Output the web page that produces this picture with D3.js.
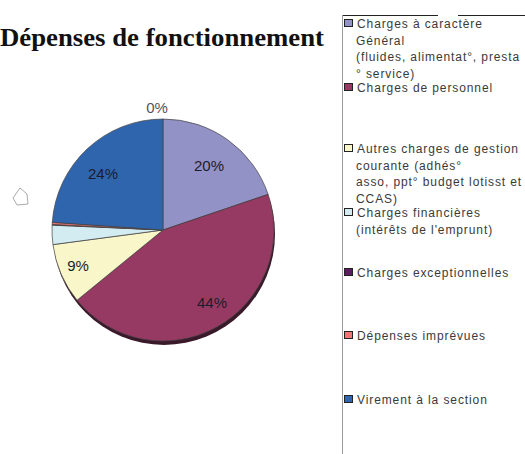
<!DOCTYPE html>
<html><head><meta charset="utf-8">
<script src="https://cdn.jsdelivr.net/npm/d3@7"></script>
<style>body{margin:0;background:#fff;overflow:hidden}svg{display:block}</style>
</head><body>
<script>
const categories = ["Charges à caractère Général (fluides, alimentat°, presta ° service)","Charges de personnel","Autres charges de gestion courante (adhés° asso, ppt° budget lotisst et CCAS)","Charges financières (intérêts de l'emprunt)","Charges exceptionnelles","Dépenses imprévues","Virement à la section"];
const values = [19.8, 44.3, 8.8, 2.8, 0.1, 0.3, 23.9];
const shownLabels = ["20%","44%","9%","","0%","","24%"];
const legendLines = [
  ["Charges à caractère","Général","(fluides, alimentat°, presta","° service)"],
  ["Charges de personnel"],
  ["Autres charges de gestion","courante  (adhés°","asso, ppt° budget lotisst et","CCAS)"],
  ["Charges financières","(intérêts de l'emprunt)"],
  ["Charges exceptionnelles"],
  ["Dépenses imprévues"],
  ["Virement à la section"]
];
const colors = ["#9392c7","#963a64","#f9f6c9","#d3ecf1","#5c1c5e","#f07474","#2f65ac"];

const W=525,H=454;
const svg=d3.select("body").append("svg").attr("width",W).attr("height",H);

svg.append("text").attr("x",0).attr("y",46)
  .attr("font-family","Liberation Serif, serif").attr("font-weight","bold")
  .attr("font-size",25).attr("fill","#111")
  .attr("textLength",324).attr("lengthAdjust","spacingAndGlyphs")
  .text("Dépenses de fonctionnement");

// small outline shape
svg.append("path").attr("d","M20,188 L27,194 L28,204 L17,205 L13,198 Z")
  .attr("fill","#fff").attr("stroke","#aaa").attr("stroke-width",1);

const cx=163,cy=230,r=111;
const pie=d3.pie().sort(null).value(d=>d)(values);
const arc=d3.arc().innerRadius(0).outerRadius(r);
const g=svg.append("g").attr("transform",`translate(${cx},${cy})`);
g.append("ellipse").attr("cx",1).attr("cy",4).attr("rx",r).attr("ry",r).attr("fill","#3a1a2a");
g.selectAll("path.s").data(pie).join("path").attr("class","s")
  .attr("d",arc).attr("fill",(d,i)=>colors[i])
  .attr("stroke","#444").attr("stroke-width",0.7);

const labelPos = [[46,-63],[49,74],[-85,37],null,[-6,-121],null,[-60,-55]];
const labelData = pie.map((d,i)=>({i,text:shownLabels[i],pos:labelPos[i]})).filter(d=>d.text!=="");
g.selectAll("text.l").data(labelData).join("text").attr("class","l")
  .attr("x",d=>d.pos[0]).attr("y",d=>d.pos[1])
  .attr("text-anchor","middle").attr("dominant-baseline","middle")
  .attr("font-family","Liberation Sans, Arial, sans-serif").attr("font-size",15)
  .attr("fill",d=>d.i===4?"#555":"#1c1c2c")
  .text(d=>d.text);

// legend
svg.append("line").attr("x1",342).attr("x2",438).attr("y1",15.5).attr("y2",15.5).attr("stroke","#222");
svg.append("line").attr("x1",458).attr("x2",525).attr("y1",15.5).attr("y2",15.5).attr("stroke","#222");
svg.append("line").attr("x1",342.5).attr("x2",342.5).attr("y1",15).attr("y2",454).attr("stroke","#999");

const itemY=[28,92,153,217,277,340,404];
const lg=svg.append("g");
legendLines.forEach((lines,i)=>{
  lg.append("rect").attr("x",344.5).attr("y",itemY[i]-8.5).attr("width",8).attr("height",7)
    .attr("fill",colors[i]).attr("stroke","#222").attr("stroke-width",1);
  lines.forEach((t,j)=>{
    lg.append("text").attr("x",j===0?357:356).attr("y",itemY[i]+j*16.5)
      .attr("font-family","Liberation Sans, Arial, sans-serif").attr("font-size",12)
      .attr("fill","#3a3a3a").attr("letter-spacing",0.9).text(t);
  });
});
</script>
</body></html>
